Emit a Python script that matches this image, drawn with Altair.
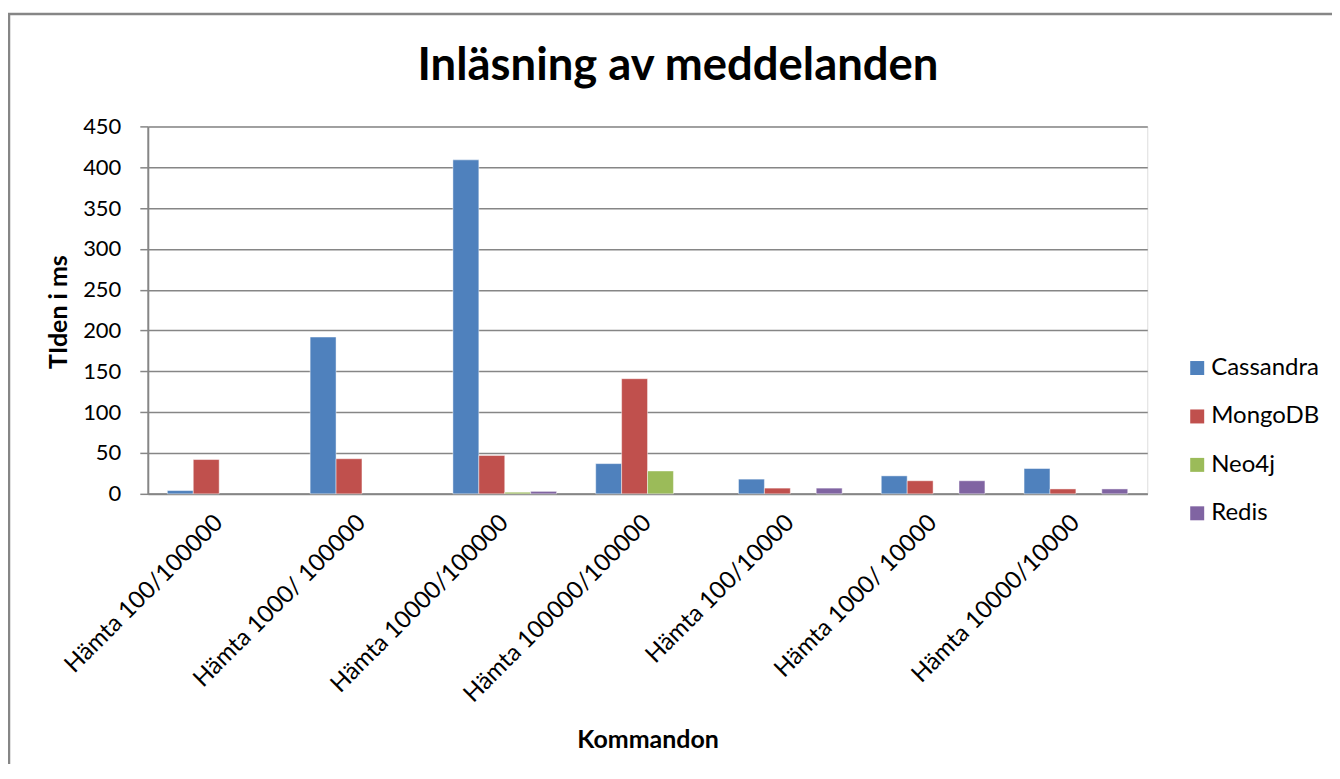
import altair as alt
import pandas as pd

categories = ["Hämta 100/100000", "Hämta 1000/ 100000", "Hämta 10000/100000",
              "Hämta 100000/100000", "Hämta 100/10000", "Hämta 1000/ 10000",
              "Hämta 10000/10000"]
series = ["Cassandra", "MongoDB", "Neo4j", "Redis"]
cassandra = [4, 192, 409, 37, 18, 22, 31]
mongodb = [42, 43, 47, 141, 7, 16, 6]
neo4j = [0, 0, 2, 28, 0, 0, 0]
redis = [0, 0, 3, 0, 7, 16, 6]
colors = ["#4F81BD", "#C0504D", "#9BBB59", "#8064A2"]
y_ticks = [0, 50, 100, 150, 200, 250, 300, 350, 400, 450]

rows = []
for s, vals in zip(series, [cassandra, mongodb, neo4j, redis]):
    for c, v in zip(categories, vals):
        rows.append({"Kommando": c, "Databas": s, "Tid": v})
df = pd.DataFrame(rows)

FONT = "Lato"
GRAY = "#868686"
W, H = 1001, 368

bars = alt.Chart(df).transform_filter(alt.datum.Tid > 0).mark_bar(
    stroke="white", strokeOpacity=0.45, strokeWidth=1
).encode(
    x=alt.X("Kommando:N", sort=categories,
            scale=alt.Scale(paddingInner=0.274, paddingOuter=0.137),
            axis=alt.Axis(title="Kommandon", labelAngle=-45, labelAlign="right",
                          labelBaseline="middle", labelPadding=25, ticks=False,
                          labelLimit=400,
                          domainColor=GRAY, domainWidth=2,
                          labelFont=FONT, labelFontSize=24, labelColor="black",
                          titleFont=FONT, titleFontSize=25, titleFontWeight="bold",
                          titleColor="black", titleY=246, titleBaseline="middle")),
    xOffset=alt.XOffset("Databas:N", scale=alt.Scale(domain=series, paddingInner=0, paddingOuter=0)),
    y=alt.Y("Tid:Q", scale=alt.Scale(domain=[0, 450], nice=False),
            axis=alt.Axis(title="TIden i ms", values=y_ticks, tickSize=8,
                          tickColor=GRAY, tickWidth=1.5, domainColor=GRAY, domainWidth=2,
                          gridColor=GRAY, gridWidth=1.5,
                          labelFont=FONT, labelFontSize=22, labelColor="black", labelPadding=19,
                          titleFont=FONT, titleFontSize=25, titleFontWeight="bold",
                          titleColor="black", titleX=-89.5, titleY=185.5, titleBaseline="middle")),
    color=alt.Color("Databas:N", scale=alt.Scale(domain=series, range=colors),
                    legend=alt.Legend(title=None, orient="none", legendX=1039, legendY=230,
                                      symbolType="square", symbolSize=196, symbolStrokeWidth=0,
                                      labelFont=FONT, labelFontSize=24, labelColor="black",
                                      rowPadding=24.5, labelOffset=2)),
)

border = alt.Chart(pd.DataFrame({"a": [0]})).mark_rect(
    fill=None, stroke=GRAY, strokeWidth=2.5
).encode(
    x=alt.value(-139), y=alt.value(-112.5), x2=alt.value(W + 400), y2=alt.value(H + 400)
)

chart = alt.layer(border, bars).properties(
    width=W, height=H,
    title=alt.TitleParams("Inläsning av meddelanden", font=FONT, fontSize=45.5,
                          fontWeight="bold", color="black", anchor="middle",
                          dx=30.5, dy=111, offset=34),
    autosize=alt.AutoSizeParams(type="none"),
    padding={"left": 140, "top": 118, "right": 185, "bottom": 270},
).configure_view(stroke=None).configure(background="white")

chart.save("out.html", embed_options={"renderer": "svg", "actions": False})
